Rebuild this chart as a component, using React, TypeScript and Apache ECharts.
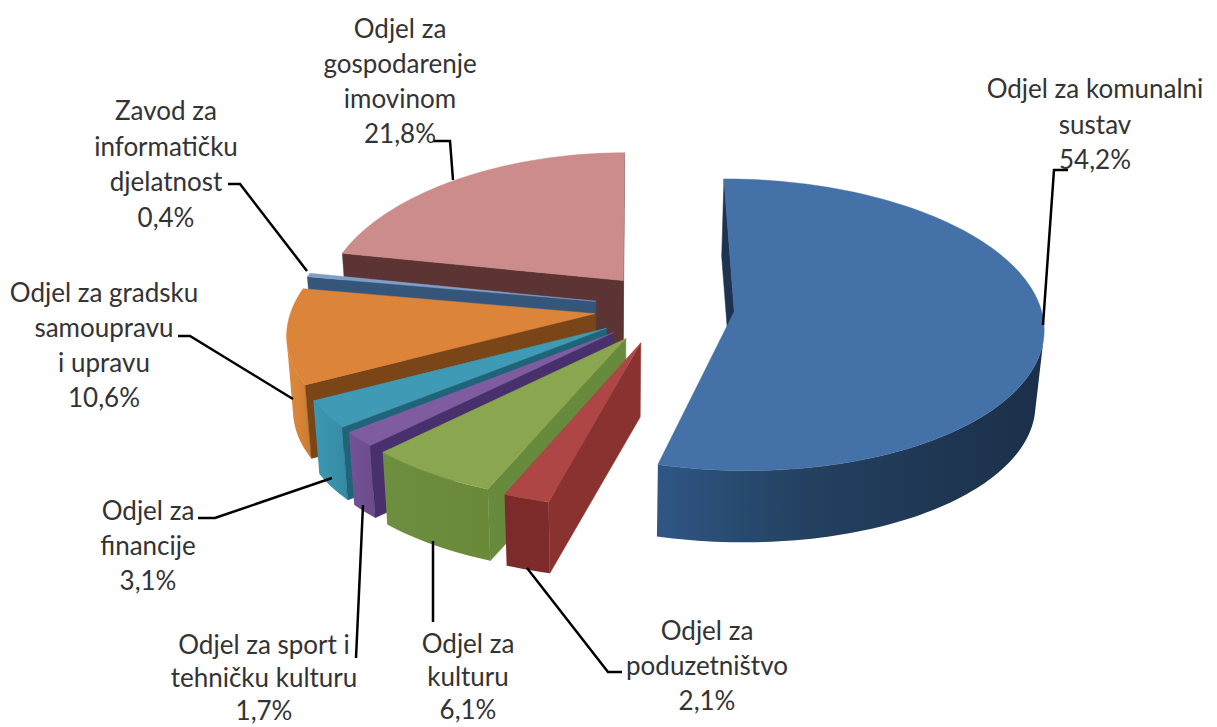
import React, { useEffect, useRef } from "react";
import * as echarts from "echarts";

const categories = [
  "Odjel za komunalni\nsustav",
  "Odjel za\npoduzetništvo",
  "Odjel za\nkulturu",
  "Odjel za sport i\ntehničku kulturu",
  "Odjel za\nfinancije",
  "Odjel za gradsku\nsamoupravu\ni upravu",
  "Zavod za\ninformatičku\ndjelatnost",
  "Odjel za\ngospodarenje\nimovinom",
];
const values = [54.2, 2.1, 6.1, 1.7, 3.1, 10.6, 0.4, 21.8];
const explode = [0.19, 0.25, 0.25, 0.25, 0.25, 0.25, 0.25, 0.25];
const nudgeX = [5, -5, -2, 0, 0, 0, 0, 1];
const radiusScaleX = [0.98, 1, 1, 1, 1, 1, 1, 1];

const topColors = ["#4471a7", "#ad4644", "#8aa64e", "#7f5ca0", "#3e9ab5", "#dc8439", "#7f9fcb", "#cc8c8b"];
const cutColors = ["#1d3350", "#8a3230", "#678a3c", "#47306b", "#1f6478", "#7a4517", "#35557a", "#5c3434"];
const wallLeft = ["#2f5684", "#7c2b2a", "#6f8f40", "#745296", "#3c98b2", "#dd8a3e", "#35557a", "#5c3434"];
const wallMid = ["#23405f", "#7c2b2a", "#6c8c3d", "#705091", "#3a93ac", "#d98539", "#35557a", "#5c3434"];
const wallRight = ["#1b2f49", "#7c2b2a", "#6a8a3a", "#6c4c8c", "#358aa4", "#c97a32", "#35557a", "#5c3434"];

const labelCenters = [
  [1095, 88], [707, 630], [468, 643], [264, 644], [148, 510], [104, 292], [166, 110], [400, 28],
];
const lineHeights = [35.5, 35, 33, 33, 35, 35, 35.5, 35];
const leaders = [
  [[1043, 325], [1054, 170], [1068, 170]],
  [[527, 568], [608, 672], [622, 672]],
  [[433, 541], [433, 622]],
  [[363, 505], [356, 658]],
  [[332, 478], [215, 518], [198, 518]],
  [[293, 399], [190, 336], [178, 336]],
  [[307, 271], [240, 184], [228, 184]],
  [[453, 180], [450, 141], [433, 141]],
];

const VX = 610, CX0 = 60, CY = 308, KX = 313, KY = 144, P = 0.09, DEPTH = 75, SHRINK = 0.98;

function project(wx: number, wy: number, bottom: boolean, nudge: number): number[] {
  const s = 1 / (1 - P * wy);
  const skew = wx < 0 ? -wx * (10 - 15 * wy) : 0;
  let x = VX + (CX0 + KX * wx + skew + nudge) * s;
  let y = CY + KY * wy * s;
  if (bottom) {
    x = VX + (x - VX) * SHRINK;
    y = CY + (y - CY) * SHRINK + DEPTH;
  }
  return [x, y];
}

function area(pts: number[][]): number {
  let a = 0;
  pts.forEach((p, i) => {
    const q = pts[(i + 1) % pts.length];
    a += p[0] * q[1] - q[0] * p[1];
  });
  return a;
}

const total = values.reduce((a, b) => a + b, 0);

function renderSlice(params: any, api: any) {
  const i = params.dataIndex;
  const before = values.slice(0, i).reduce((a, b) => a + b, 0);
  const a0 = (before / total) * Math.PI * 2;
  const a1 = ((before + Number(api.value(0))) / total) * Math.PI * 2;
  const mid = (a0 + a1) / 2;
  const ax = explode[i] * Math.sin(mid);
  const ay = -explode[i] * Math.cos(mid);
  const pt = (t: number, b: boolean) =>
    project(ax + radiusScaleX[i] * Math.sin(t), ay - Math.cos(t), b, nudgeX[i]);
  const N = Math.max(4, Math.ceil((a1 - a0) * 40));
  const topArc: number[][] = [];
  const botArc: number[][] = [];
  for (let k = 0; k <= N; k++) {
    const t = a0 + ((a1 - a0) * k) / N;
    topArc.push(pt(t, false));
    botArc.push(pt(t, true));
  }
  const apexT = project(ax, ay, false, nudgeX[i]);
  const apexB = project(ax, ay, true, nudgeX[i]);
  const z2 = values.length - i;
  const children: any[] = [];
  const addPoly = (points: number[][], fill: any) =>
    children.push({
      type: "polygon",
      z2,
      shape: { points },
      style: { fill, stroke: typeof fill === "string" ? fill : undefined, lineWidth: 0.5 },
      silent: true,
    });
  let first = -1, last = -1;
  for (let k = 0; k < N; k++) {
    const q = [topArc[k], topArc[k + 1], botArc[k + 1], botArc[k]];
    if (area(q) < 0) {
      if (first < 0) first = k;
      last = k + 1;
    }
  }
  if (first >= 0) {
    const t = topArc.slice(first, last + 1);
    const b = botArc.slice(first, last + 1).reverse();
    addPoly(t.concat(b), new echarts.graphic.LinearGradient(0, 0, 1, 0, [
      { offset: 0, color: wallLeft[i] },
      { offset: 0.4, color: wallMid[i] },
      { offset: 1, color: wallRight[i] },
    ]));
  }
  const startCut = [apexT, topArc[0], botArc[0], apexB];
  if (area(startCut) < 0) addPoly(startCut, cutColors[i]);
  const endCut = [apexT, topArc[N], botArc[N], apexB];
  if (area(endCut) > 0) addPoly(endCut, cutColors[i]);
  addPoly([apexT].concat(topArc), topColors[i]);
  return { type: "group", children };
}

function labelText(i: number): string {
  return categories[i] + "\n" + values[i].toFixed(1).replace(".", ",") + "%";
}

export default function App() {
  const ref = useRef<HTMLDivElement>(null);
  useEffect(() => {
    document.body.style.margin = "0";
    const chart = echarts.init(ref.current!, null, { renderer: "svg" });
    const graphic: any[] = [];
    leaders.forEach((pts) => {
      graphic.push({
        type: "polyline",
        z: 5,
        shape: { points: pts },
        style: { stroke: "#000", lineWidth: 2.5, fill: "none" },
        silent: true,
      });
    });
    categories.forEach((_, i) => {
      const txt = labelText(i);
      const n = txt.split("\n").length;
      const lh = lineHeights[i];
      graphic.push({
        type: "text",
        z: 6,
        x: labelCenters[i][0],
        y: labelCenters[i][1] + ((n - 1) * lh) / 2,
        style: {
          text: txt,
          font: "26px Lato",
          fill: "#333333",
          align: "center",
          verticalAlign: "middle",
          lineHeight: lh,
        },
        silent: true,
      });
    });
    chart.setOption({
      animation: false,
      backgroundColor: "#ffffff",
      series: [{
        type: "custom",
        coordinateSystem: "none",
        silent: true,
        data: values.map((v) => [v]),
        renderItem: renderSlice,
      }],
      graphic,
    });
    return () => chart.dispose();
  }, []);
  return <div ref={ref} style={{ position: "fixed", left: 0, top: 0, width: 1217, height: 727 }} />;
}
